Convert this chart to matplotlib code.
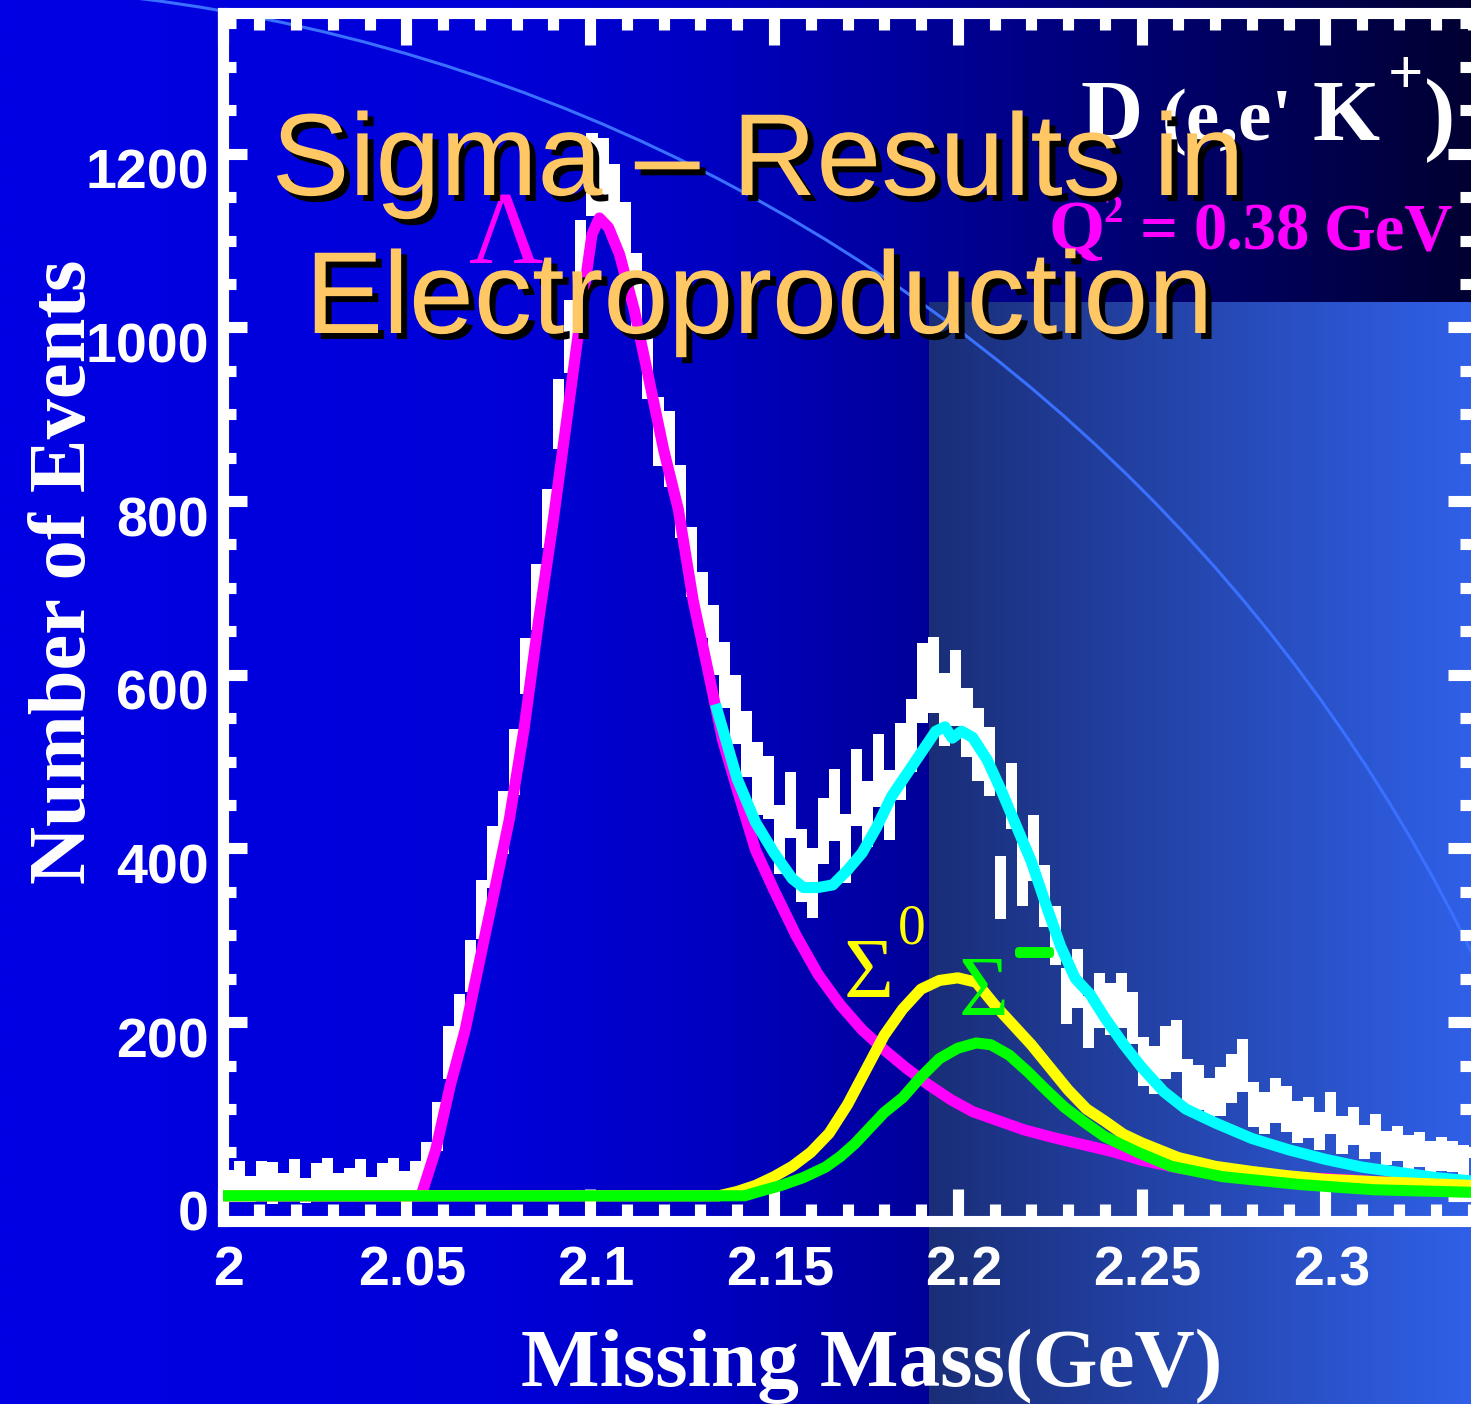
import numpy as np
import matplotlib
matplotlib.use("Agg")
import matplotlib.pyplot as plt
import matplotlib.patheffects as pe
from matplotlib.transforms import ScaledTranslation
from matplotlib.patches import Circle
from matplotlib.ticker import MultipleLocator

W, H, DPI = 1471, 1404, 100

# ---------------------------------------------------------
# data
# ---------------------------------------------------------
BIN_W = 0.003          # histogram bins start at 2.0
counts = [12, 18, 8, 20, 15, 10, 22, 6, 16, 24, 10, 14, 20, 8, 18, 22, 12, 20,
          40, 80, 165, 200, 265, 330, 390, 430, 500, 610, 690, 780, 900, 990, 1080,
          1176, 1170, 1142, 1100, 1040, 960, 880, 860, 800, 730, 680, 640, 600,
          560, 520, 480, 470, 410, 450, 380, 360, 420, 450, 400, 470, 440, 490,
          450, 500, 530, 590, 600, 560, 585, 545, 520, 500, 355, 460,
          370, 400, 345, 300, 230, 250, 200, 225, 215, 225, 205, 155, 145, 165,
          172, 130, 125, 110, 120, 135, 150, 105, 95, 110, 100, 85, 90, 75, 95,
          70, 80, 62, 72, 55, 60, 50, 53, 45, 48, 45, 40]
errs = [18, 22, 15, 20, 24, 16, 20, 14, 22, 20, 16, 18, 22, 14, 20, 22, 16, 20,
        22, 28, 30, 32, 30, 34, 36, 36, 38, 32, 38, 34, 40, 42, 44,
        48, 48, 46, 44, 46, 42, 40, 44, 42, 40, 38, 40, 38,
        40, 38, 42, 36, 40, 38, 42, 40, 38, 42, 40, 44, 38, 42, 40, 44, 42, 46,
        44, 42, 44, 40, 42, 40, 36, 38,
        36, 38, 36, 34, 32, 34, 30, 32, 30, 32, 30, 28, 28, 30, 30, 28, 26, 26,
        28, 28, 30, 26, 24, 26, 26, 24, 24, 22, 24, 22, 22, 20, 22, 20, 20, 20,
        20, 18, 20, 18, 18]

# Lambda fit (magenta)
lam_x = [2.000, 2.054, 2.058, 2.062, 2.066, 2.070, 2.074, 2.078, 2.082, 2.086,
         2.090, 2.094, 2.098, 2.1005, 2.1025, 2.105, 2.108, 2.112, 2.116, 2.120,
         2.124, 2.128, 2.132, 2.136, 2.140, 2.145, 2.150, 2.156, 2.162, 2.168,
         2.174, 2.180, 2.186, 2.192, 2.198, 2.204, 2.210, 2.218, 2.226, 2.234,
         2.242, 2.250, 2.260, 2.272, 2.285, 2.300, 2.315, 2.340]
lam_y = [0, 0, 53, 128, 191, 272, 352, 433, 537, 663,
         779, 905, 1032, 1107, 1126, 1115, 1084, 1020, 940, 859,
         790, 686, 606, 525, 468, 398, 352, 300, 255, 220,
         191, 168, 147, 128, 111, 97, 88, 76, 67, 59,
         51, 41, 32, 25, 22, 20, 16, 12]

# total fit (cyan)
tot_x = [2.1345, 2.140, 2.145, 2.150, 2.155, 2.158, 2.162, 2.166, 2.170, 2.174,
         2.178, 2.182, 2.186, 2.190, 2.194, 2.1965, 2.1985, 2.201, 2.204, 2.208,
         2.212, 2.216, 2.220, 2.224, 2.228, 2.232, 2.236, 2.240, 2.245, 2.250,
         2.256, 2.262, 2.270, 2.280, 2.290, 2.300, 2.310, 2.320, 2.330, 2.340]
tot_y = [560, 480, 430, 395, 365, 355, 355, 358, 375, 395,
         425, 460, 485, 510, 535, 540, 527, 535, 528, 502,
         465, 425, 385, 335, 287, 250, 232, 205, 175, 148,
         120, 100, 84, 66, 53, 42, 33, 27, 21, 17]

# Sigma0 fit (yellow)
sig0_x = [2.000, 2.135, 2.140, 2.145, 2.150, 2.155, 2.160, 2.165, 2.170, 2.175,
          2.180, 2.185, 2.190, 2.195, 2.200, 2.205, 2.210, 2.215, 2.220, 2.225,
          2.230, 2.235, 2.240, 2.245, 2.250, 2.260, 2.270, 2.280, 2.290, 2.300,
          2.315, 2.340]
sig0_y = [0, 0, 5, 12, 22, 34, 50, 72, 105, 145,
          185, 215, 238, 248, 251, 246, 220, 197, 174, 148,
          122, 100, 86, 71, 61, 44, 34, 28, 23, 19,
          16, 12]

# Sigma- fit (green)
sigm_x = [2.000, 2.142, 2.146, 2.152, 2.158, 2.164, 2.168, 2.172, 2.176, 2.180,
          2.185, 2.190, 2.195, 2.200, 2.205, 2.209, 2.214, 2.219, 2.224, 2.229,
          2.234, 2.240, 2.249, 2.258, 2.272, 2.293, 2.313, 2.340]
sigm_y = [0, 0, 5, 12, 21, 33, 45, 60, 78, 96,
          113, 137, 158, 170, 176, 174, 162, 143, 122, 102,
          86, 68, 50, 34, 22, 13, 7, 4]

xticks = [2.0, 2.05, 2.1, 2.15, 2.2, 2.25, 2.3]
xtick_labels = ["2", "2.05", "2.1", "2.15", "2.2", "2.25", "2.3"]
yticks = [0, 200, 400, 600, 800, 1000, 1200]
ytick_labels = ["0", "200", "400", "600", "800", "1000", "1200"]

SANS = "Liberation Sans"
SERIF = "Liberation Serif"


def fx(px):
    return px / W


def fy(py):
    return 1 - py / H


fig = plt.figure(figsize=(W / DPI, H / DPI), dpi=DPI)

# ---------------------------------------------------------
# slide background (gradient, lighter panel, thin arc)
# ---------------------------------------------------------
bg = fig.add_axes([0, 0, 1, 1], zorder=-1)
gx = np.linspace(0, W, 400)
grad = np.zeros((1, gx.size, 3))
grad[0, :, 2] = np.interp(gx, [0, 500, 700, W], [228, 216, 195, 50]) / 255
bg.imshow(grad, extent=[0, W, H, 0], aspect="auto", interpolation="bilinear")

px_ = np.linspace(0, 1, 200)
panel = np.zeros((1, px_.size, 3))
panel[0, :, 0] = np.interp(px_, [0, 1], [26, 48]) / 255
panel[0, :, 1] = np.interp(px_, [0, 1], [46, 96]) / 255
panel[0, :, 2] = np.interp(px_, [0, 1], [120, 232]) / 255
bg.imshow(panel, extent=[929, W, H, 302], aspect="auto", interpolation="bilinear")

bg.add_patch(Circle((-75, 1705), 1720, fill=False, ec="#3a70ff", lw=2.2, zorder=3))
bg.set_xlim(0, W)
bg.set_ylim(H, 0)
bg.axis("off")

# ---------------------------------------------------------
# histogram panel
# ---------------------------------------------------------
ax = fig.add_axes([fx(222.5), fy(1221), (1472.5 - 222.5) / W, (1221 - 13) / H])
ax.patch.set_alpha(0)
ax.set_xlim(2.0, 2.34)
ax.set_ylim(-29, 1362)
for s in ax.spines.values():
    s.set_color("white")
    s.set_linewidth(8)

ax.set_xticks(xticks)
ax.set_yticks(yticks)
ax.xaxis.set_minor_locator(MultipleLocator(0.01))
ax.yaxis.set_minor_locator(MultipleLocator(50))
ax.tick_params(which="both", direction="in", top=True, right=True,
               color="white", width=8, labelbottom=False, labelleft=False)
ax.tick_params(axis="x", which="major", length=23)
ax.tick_params(axis="x", which="minor", length=12.5)
ax.tick_params(axis="y", which="major", length=17.5)
ax.tick_params(axis="y", which="minor", length=9)

c = np.array(counts, dtype=float)
e = np.array(errs, dtype=float)
centers = 2.0 + BIN_W * (np.arange(c.size) + 0.5)
ax.bar(centers, 2 * e, bottom=c - e, width=BIN_W, color="white",
       lw=0, zorder=2)

ax.plot(lam_x, lam_y, color="#ff00ff", lw=8, zorder=3)
ax.plot(tot_x, tot_y, color="#00ffff", lw=8, zorder=4)
ax.plot(sig0_x, sig0_y, color="#ffff00", lw=8, zorder=5)
ax.plot(sigm_x, sigm_y, color="#00ff00", lw=8, zorder=6)


def off(dx, dy):
    return ScaledTranslation(dx / DPI, dy / DPI, fig.dpi_scale_trans)


for v, s in zip(xticks, xtick_labels):
    ax.text(v, 0, s, transform=ax.get_xaxis_transform() + off(6, -64),
            ha="center", va="baseline", color="white", fontsize=40,
            fontweight="bold", family=SANS)
for v, s in zip(yticks, ytick_labels):
    ax.text(0, v, s, transform=ax.get_yaxis_transform() + off(-14, -35),
            ha="right", va="baseline", color="white", fontsize=40,
            fontweight="bold", family=SANS)

# axis titles
fig.text(fx(872), fy(1386), "Missing Mass(GeV)", ha="center", va="baseline",
         fontsize=60, fontweight="bold", family=SERIF, color="white")
fig.text(fx(85), fy(572), "Number of Events", rotation=90, rotation_mode="anchor",
         ha="center", va="baseline", fontsize=58, fontweight="bold",
         family=SERIF, color="white")

# reaction label
rk = dict(fontweight="bold", family=SERIF, color="white", va="baseline", zorder=2)
fig.text(fx(1080), fy(140), "D", fontsize=62, **rk)
fig.text(fx(1162), fy(140), "(e,e'", fontsize=54, **rk)
fig.text(fx(1313), fy(140), "K", fontsize=62, **rk)
fig.text(fx(1388), fy(93), "+", fontsize=45, **rk)
fig.text(fx(1424), fy(143), ")", fontsize=68, **rk)

qk = dict(fontweight="bold", family=SERIF, color="#ff00ff", va="baseline", zorder=2)
fig.text(fx(1048), fy(250), "Q", fontsize=52, **qk)
fig.text(fx(1103), fy(222), "2", fontsize=28, **qk)
fig.text(fx(1140), fy(250), "=", fontsize=48, **qk)
fig.text(fx(1193), fy(250), "0.38", fontsize=48, **qk)
fig.text(fx(1453), fy(250), "GeV", fontsize=48, ha="right", **qk)

# peak labels
fig.text(fx(506), fy(263), "Λ", fontsize=74, family=SERIF, color="#ff00ff",
         ha="center", va="baseline", zorder=2)
fig.text(fx(869), fy(998), "Σ", fontsize=62, family=SERIF, color="#ffff00",
         ha="center", va="baseline", zorder=2)
fig.text(fx(898), fy(944), "0", fontsize=40, family=SERIF, color="#ffff00",
         va="baseline", zorder=2)
fig.text(fx(984), fy(1016), "Σ", fontsize=62, family=SERIF, color="#00ff00",
         ha="center", va="baseline", zorder=2)
fig.text(fx(1014), fy(975), "−", fontsize=50, fontweight="bold", family=SERIF,
         color="#00ff00", va="baseline", zorder=2,
         path_effects=[pe.withStroke(linewidth=5, foreground="#00ff00")])

# slide title with drop shadow
shadow = [pe.withSimplePatchShadow(offset=(4.3, -4.3), shadow_rgbFace="black",
                                   alpha=1.0)]
fig.text(fx(758), fy(195), "Sigma – Results in", ha="center", va="baseline",
         fontsize=84, color="#FFC864", family=SANS, path_effects=shadow, zorder=10)
fig.text(fx(759), fy(333), "Electroproduction", ha="center", va="baseline",
         fontsize=84, color="#FFC864", family=SANS, path_effects=shadow, zorder=10)

fig.savefig("out.png", dpi=DPI)
